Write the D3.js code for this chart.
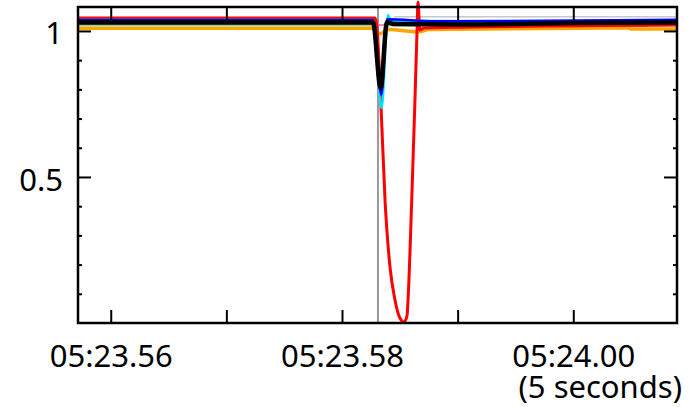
<!DOCTYPE html>
<html>
<head>
<meta charset="utf-8">
<script src="https://cdn.jsdelivr.net/npm/d3@7"></script>
<style>
  body { margin: 0; background: #fff; }
  svg { display: block; }
  .axis text { font-family: "Noto Sans", sans-serif; font-size: 31px; fill: #000; }
  .axis line { stroke: #000; stroke-width: 2; }
  .axis path { display: none; }
</style>
</head>
<body>
<svg class="main" width="695" height="407"></svg>
<script>
// time in frames (60 per second), 1436 = 05:23.56
const xTicks = [1436, 1437, 1438, 1439, 1440];
const xTickLabels = ["05:23.56", "", "05:23.58", "", "05:24.00"];
const yMajor = [0.5, 1];
const yMajorLabels = ["0.5", "1"];
const yMinor = [0.1, 0.2, 0.3, 0.4, 0.6, 0.7, 0.8, 0.9];
const markerFrame = 1438.311;
const spanNote = "(5 seconds)";

// series: [frame, value]
const orange = [[1435.72, 1.009], [1438.26, 1.009], [1438.33, 0.99], [1438.40, 1.005], [1438.67, 0.997], [1438.75, 1.005], [1440.47, 1.01], [1440.5, 1.007], [1440.897, 1.007]];
const pink = [[1435.72, 1.02], [1440.40, 1.02], [1440.47, 1.016], [1440.62, 1.016], [1440.66, 1.02], [1440.897, 1.02]];
const lightGreen = [[1435.72, 1.018], [1438.27, 1.018], [1438.34, 0.85], [1438.39, 1.018], [1440.897, 1.019]];
const silver = [[1438.45, 1.049], [1440.897, 1.049]];
const red = [[1435.72, 1.044], [1438.285, 1.044], [1438.30, 1.02], [1438.335, 0.764], [1438.372, 0.421], [1438.415, 0.192], [1438.458, 0.079], [1438.501, 0.017], [1438.536, 0.003], [1438.562, 0.024], [1438.571, 0.079], [1438.603, 0.421], [1438.631, 0.764], [1438.649, 1.003], [1438.657, 1.099], [1438.674, 1.003], [1438.709, 1.010], [1440.897, 1.02]];
const teal = [[1435.72, 1.040], [1438.27, 1.040], [1438.338, 0.80], [1438.39, 1.04], [1438.7, 1.03], [1440.897, 1.03]];
const cyan = [[1435.72, 1.03], [1438.27, 1.03], [1438.342, 0.736], [1438.398, 1.055], [1438.42, 1.035], [1440.897, 1.03]];
const blue = [[1435.72, 1.037], [1438.27, 1.037], [1438.34, 0.781], [1438.39, 1.04], [1438.8, 1.033], [1440.897, 1.038]];
const black = [[1435.72, 1.029], [1438.268, 1.029], [1438.334, 0.805], [1438.389, 1.03], [1438.45, 1.024], [1439.0, 1.022], [1440.0, 1.027], [1440.897, 1.029]];

const seriesList = [
  { data: orange, color: "#ffa500", width: 3.5 },
  { data: pink, color: "#ff5fa0", width: 1.5 },
  { data: lightGreen, color: "#90d890", width: 1.5 },
  { data: silver, color: "#c8c8c8", width: 1.5 },
  { data: red, color: "#ff0000", width: 3 },
  { data: teal, color: "#1f7f70", width: 1.5 },
  { data: cyan, color: "#00e5ff", width: 2.5 },
  { data: blue, color: "#0000ff", width: 2.5 },
  { data: black, color: "#000000", width: 4.5 }
];

const margin = { left: 78, right: 18, top: 7, bottom: 84 };
const width = 695 - margin.left - margin.right;
const height = 407 - margin.top - margin.bottom;

const x = d3.scaleLinear().domain([1435.717, 1440.897]).range([0, width]);
const y = d3.scaleLinear().domain([0, 1.082]).range([height, 0]);

const svg = d3.select(".main");
const g = svg.append("g").attr("transform", `translate(${margin.left},${margin.top})`);

// marker line
g.append("line")
  .attr("x1", x(markerFrame)).attr("x2", x(markerFrame))
  .attr("y1", 0).attr("y2", height)
  .attr("stroke", "#999").attr("stroke-width", 2);

const line = d3.line()
  .x(d => x(d[0]))
  .y(d => y(d[1]))
  .curve(d3.curveMonotoneX);

g.selectAll("path.series")
  .data(seriesList)
  .join("path")
  .attr("class", "series")
  .attr("fill", "none")
  .attr("stroke", d => d.color)
  .attr("stroke-width", d => d.width)
  .attr("stroke-linejoin", "round")
  .attr("d", d => line(d.data));

// axes, ticks pointing inward
g.append("g").attr("class", "axis")
  .attr("transform", `translate(0,${height})`)
  .call(d3.axisBottom(x).tickValues(xTicks).tickSize(-13).tickPadding(22)
    .tickFormat((d, i) => xTickLabels[i]));

g.append("g").attr("class", "axis")
  .call(d3.axisTop(x).tickValues(xTicks).tickSize(-13).tickFormat(""));

g.append("g").attr("class", "axis")
  .call(d3.axisLeft(y).tickValues(yMajor).tickSize(-13).tickPadding(15)
    .tickFormat((d, i) => yMajorLabels[i]))
  .selectAll("text").attr("dy", "0.42em");

g.append("g").attr("class", "axis")
  .call(d3.axisLeft(y).tickValues(yMinor).tickSize(-4).tickFormat(""));

g.append("g").attr("class", "axis")
  .attr("transform", `translate(${width},0)`)
  .call(d3.axisRight(y).tickValues(yMajor).tickSize(-13).tickFormat(""));

g.append("g").attr("class", "axis")
  .attr("transform", `translate(${width},0)`)
  .call(d3.axisRight(y).tickValues(yMinor).tickSize(-4).tickFormat(""));

// frame
g.append("rect")
  .attr("width", width).attr("height", height)
  .attr("fill", "none").attr("stroke", "#000").attr("stroke-width", 2.5);

svg.append("text")
  .attr("class", "axis")
  .attr("x", 682).attr("y", 398)
  .attr("text-anchor", "end")
  .style("font-family", "'Noto Sans', sans-serif")
  .style("font-size", "31px")
  .text(spanNote);
</script>
</body>
</html>
